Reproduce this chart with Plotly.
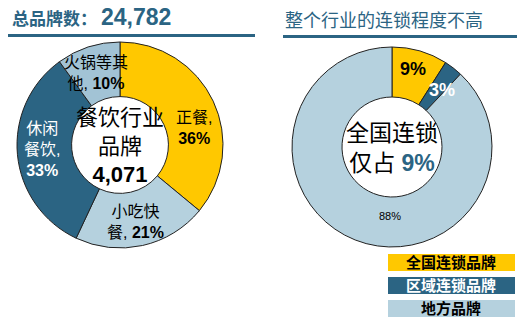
import plotly.graph_objects as go

# ---------------- data ----------------
cat_left = ["正餐", "小吃快餐", "休闲餐饮", "火锅等其他"]
val_left = [36, 21, 33, 10]
lbl_left = ["正餐,<br><b>36%</b>", "小吃快<br>餐, <b>21%</b>", "休闲<br>餐饮,<br><b>33%</b>", "火锅等其<br>他, <b>10%</b>"]
col_left = ["#FFC800", "#B5D1DE", "#2B6483", "#A2C3D5"]

cat_right = ["全国连锁品牌", "区域连锁品牌", "地方品牌"]
val_right = [9, 3, 88]
col_right = ["#FFC800", "#2B6483", "#B5D1DE"]

title_left = "总品牌数："
total_brands = "24,782"
title_right = "整个行业的连锁程度不高"
center_left = "餐饮行业<br>品牌"
center_left_num = "4,071"
center_right = "全国连锁<br>仅占"

W, H = 525, 326
FONT = "Liberation Sans, Arial, Noto Sans CJK SC, sans-serif"
BLUE = "#2B6483"

def dx(px):
    return px / W

def dy(py):
    return 1 - py / H

fig = go.Figure()
fig.add_trace(go.Pie(
    labels=cat_left, values=val_left, sort=False, direction="clockwise", rotation=0,
    hole=0.47, marker=dict(colors=col_left, line=dict(color="#222222", width=1)),
    textinfo="none", hoverinfo="label+percent", showlegend=False,
    domain=dict(x=[dx(17), dx(223)], y=[dy(248), dy(42)]),
))
fig.add_trace(go.Pie(
    labels=cat_right, values=val_right, sort=False, direction="clockwise", rotation=0,
    hole=0.5, marker=dict(colors=col_right, line=dict(color="#222222", width=1)),
    textinfo="none", hoverinfo="label+percent", showlegend=False,
    domain=dict(x=[dx(292), dx(492)], y=[dy(247), dy(47)]),
))

ann = []
def A(x, y, text, size, color="black", xanchor="center", **kw):
    ann.append(dict(x=dx(x), y=dy(y), xref="paper", yref="paper", text=text,
                    showarrow=False, xanchor=xanchor, yanchor="middle",
                    font=dict(family=FONT, size=size, color=color), **kw))

# titles
A(10, 19, f"<b>{title_left}</b>", 17, BLUE, xanchor="left")
A(99, 17, f"<b>{total_brands}</b>", 23, BLUE, xanchor="left")
A(283, 21, title_right, 18, BLUE, xanchor="left")

# left labels
pos_left = [(194, 128), (135, 222), (42, 149), (96, 73)]
lc = ["black", "black", "white", "black"]
for (x, y), t, c in zip(pos_left, lbl_left, lc):
    A(x, y, t, 16, c, align="center")
A(120, 146, f"{center_left}<br><b>{center_left_num}</b>", 22, "black", align="center")

# right labels
A(413, 69, f"<b>{val_right[0]}%</b>", 18, "black")
A(442, 90, f"<b>{val_right[1]}%</b>", 18, "white")
A(390, 216, f"{val_right[2]}%", 11, "black")
A(392, 148, f"{center_right} <span style='color:{BLUE}'><b>{val_right[0]}%</b></span>", 23, "black", align="center")

# legend boxes
shapes = []
boxes = [(254, 271), (277, 294), (300, 317)]
tcol = ["black", "white", "black"]
for (y0, y1), c, t, tc in zip(boxes, col_right, cat_right, tcol):
    shapes.append(dict(type="rect", xref="paper", yref="paper", x0=dx(388), x1=dx(515),
                       y0=dy(y1), y1=dy(y0), fillcolor=c, line=dict(width=0)))
    A(451, (y0 + y1) / 2, f"<b>{t}</b>", 15, tc)

# underlines
shapes.append(dict(type="rect", xref="paper", yref="paper", x0=dx(8), x1=dx(255),
                   y0=dy(37), y1=dy(34), fillcolor=BLUE, line=dict(width=0)))
shapes.append(dict(type="rect", xref="paper", yref="paper", x0=dx(283), x1=dx(517),
                   y0=dy(38), y1=dy(35), fillcolor=BLUE, line=dict(width=0)))

fig.update_layout(width=W, height=H, margin=dict(l=0, r=0, t=0, b=0),
                  paper_bgcolor="white", plot_bgcolor="white",
                  annotations=ann, shapes=shapes)
fig.write_html("out.html")
